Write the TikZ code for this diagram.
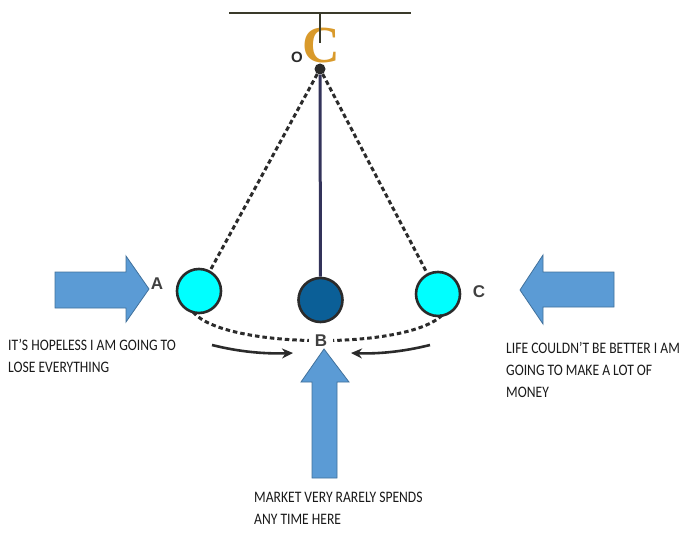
\documentclass[tikz,border=0pt]{standalone}
\usepackage{fontspec}
\setmainfont{Carlito}[FakeStretch=0.85]
\newfontfamily\lblfont{Liberation Sans}
\newfontfamily\cfont{Liberation Serif}
\usetikzlibrary{arrows.meta}
\definecolor{arrowblue}{HTML}{5B9BD5}
\definecolor{arrowedge}{HTML}{41719C}
\definecolor{ballcyan}{HTML}{00FFFF}
\definecolor{balldark}{HTML}{0B5F97}
\definecolor{corange}{HTML}{D99A2B}
\definecolor{inkgray}{HTML}{2B2B2B}
\definecolor{rodcol}{HTML}{33335A}
\definecolor{barcol}{HTML}{3A3A2A}
\tikzset{
  bigarrow/.style={fill=arrowblue, draw=arrowedge, line width=0.8pt, line join=miter},
  ball/.style={circle, draw=inkgray, line width=2.6pt, minimum size=44pt, inner sep=0pt},
  ptlabel/.style={font=\lblfont\bfseries\fontsize{17}{17}\selectfont, text=inkgray!90, inner sep=0pt},
  caption/.style={font=\fontsize{16}{22}\selectfont, align=left, inner sep=0pt, text=black!90},
  dotline/.style={dashed, dash pattern=on 4.5pt off 3pt, line width=3pt, draw=inkgray},
  swing/.style={-{Stealth[length=11pt,width=10pt]}, line width=2.6pt, draw=inkgray}
}
\begin{document}
\begin{tikzpicture}[x=1pt,y=-1pt]
\useasboundingbox (0,0) rectangle (679,532);
% support
\draw[barcol, line width=2.6pt] (229,13) -- (411,13);
\node[font=\cfont\bfseries\fontsize{52}{52}\selectfont, text=corange, inner sep=0pt] (hook) at (321,46) {C};
\draw[barcol, line width=2.6pt] (320,13) -- (320,43);
\node[font=\lblfont\bfseries\fontsize{15}{15}\selectfont, text=inkgray, inner sep=0pt] (olabel) at (297,57) {O};
\node[circle, fill=inkgray, minimum size=11pt, inner sep=0pt] (pivot) at (320,69) {};
% balls
\node[ball, fill=ballcyan] (ballA) at (199,291) {};
\node[ball, fill=balldark] (ballB) at (320.5,300) {};
\node[ball, fill=ballcyan] (ballC) at (438,294) {};
% rod and dashed strings
\draw[rodcol, line width=3pt] (pivot) -- (ballB);
\draw[dotline] (pivot) -- (ballA);
\draw[dotline] (pivot) -- (ballC);
% dashed swing path
\coordinate (arcL) at (193,312);
\coordinate (arcR) at (444,313);
\draw[dotline] (arcL) .. controls (225,350) and (415,350) .. (arcR);
% labels
\node[ptlabel] (labA) at (157,284) {A};
\node[ptlabel] (labC) at (479,292) {C};
\node[ptlabel, fill=white, inner xsep=6pt, inner ysep=2pt] (labB) at (321,341) {B};
% swing arrows
\coordinate (sl0) at (212,345);
\coordinate (sl1) at (293,353);
\coordinate (sr0) at (430,345);
\coordinate (sr1) at (351,353);
\draw[swing] (sl0) .. controls (240,352) and (265,354) .. (sl1);
\draw[swing] (sr0) .. controls (402,352) and (377,354) .. (sr1);
% big arrows
\draw[bigarrow] (55,272) -- (126,272) -- (126,256) -- (149,289) -- (126,322) -- (126,308) -- (55,308) -- cycle;
\draw[bigarrow] (614,272) -- (543,272) -- (543,255) -- (520,290) -- (543,324) -- (543,307) -- (614,307) -- cycle;
\draw[bigarrow] (312,478) -- (312,382) -- (301,382) -- (324,349) -- (349,382) -- (337,382) -- (337,478) -- cycle;
% captions
\node[caption, anchor=north west] (capL) at (8,339) {IT'S HOPELESS I AM GOING TO\\LOSE EVERYTHING};
\node[caption, anchor=north west] (capR) at (506,342) {LIFE COULDN'T BE BETTER I AM\\GOING TO MAKE A LOT OF\\MONEY};
\node[caption, anchor=north west] (capB) at (254,492) {MARKET VERY RARELY SPENDS\\ANY TIME HERE};
\end{tikzpicture}
\end{document}
